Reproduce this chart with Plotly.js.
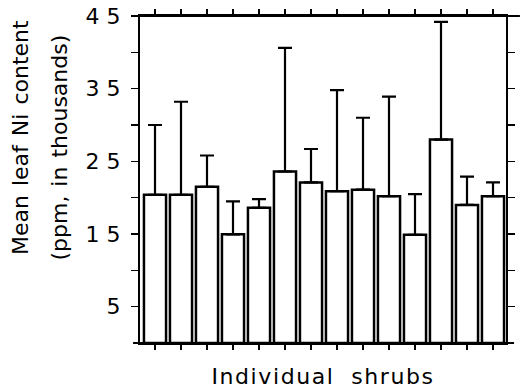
<!DOCTYPE html>
<html>
<head>
<meta charset="utf-8">
<script src="https://cdn.plot.ly/plotly-3.0.1.min.js"></script>
<style>
  html, body { margin: 0; padding: 0; background: #fff; }
  #chart { width: 520px; height: 391px; }
  .xtitle { letter-spacing: 1.6px; word-spacing: 8px; }
  .annotation-text { word-spacing: 2px; }
</style>
</head>
<body>
<div id="chart"></div>
<script>
// Individual shrubs (x categories)
const shrubIds = [1, 2, 3, 4, 5, 6, 7, 8, 9, 10, 11, 12, 13, 14];
// Mean leaf Ni content (ppm, in thousands)
const meanNi = [20.4, 20.4, 21.5, 14.95, 18.6, 23.6, 22.1, 20.9, 21.1, 20.2, 14.9, 28.0, 19.0, 20.2];
// Upper error bar lengths
const errUp = [9.6, 12.8, 4.3, 4.55, 1.2, 17.0, 4.6, 13.9, 9.9, 13.7, 5.6, 16.2, 3.9, 1.9];
// Y tick values and labels
const yTickVals = [5, 10, 15, 20, 25, 30, 35, 40, 45];
const yTickText = ['5', '', '1 5', '', '2 5', '', '3 5', '', '4 5'];

const font = 'DejaVu Sans, Liberation Sans, Arial, sans-serif';

const trace = {
  type: 'bar',
  x: shrubIds,
  y: meanNi,
  width: 0.85,
  marker: { color: '#ffffff', line: { color: '#000000', width: 2.5 } },
  error_y: {
    type: 'data',
    symmetric: false,
    array: errUp,
    arrayminus: shrubIds.map(() => 0),
    color: '#000000',
    thickness: 2.2,
    width: 7
  },
  hoverinfo: 'x+y'
};

const layout = {
  width: 520,
  height: 391,
  margin: { l: 140, r: 14, t: 16, b: 48 },
  paper_bgcolor: '#ffffff',
  plot_bgcolor: '#ffffff',
  showlegend: false,
  font: { family: font, color: '#000000' },
  xaxis: {
    range: [0.423, 14.5],
    tickvals: shrubIds,
    showticklabels: false,
    ticks: 'outside',
    ticklen: 5,
    tickwidth: 1.5,
    tickcolor: '#000',
    showline: true,
    linecolor: '#000',
    linewidth: 2,
    mirror: 'ticks',
    showgrid: false,
    zeroline: false,
    title: { text: 'Individual shrubs', font: { family: font, size: 22, color: '#000' }, standoff: 20 }
  },
  yaxis: {
    range: [0, 45],
    tickvals: yTickVals,
    ticktext: yTickText,
    ticks: 'outside',
    ticklen: 7,
    tickwidth: 1.5,
    tickcolor: '#000',
    ticklabelstandoff: 6,
    tickfont: { family: font, size: 22, color: '#000' },
    showline: true,
    linecolor: '#000',
    linewidth: 2,
    mirror: 'ticks',
    showgrid: false,
    zeroline: false
  },
  annotations: [
    {
      text: 'Mean leaf Ni content',
      xref: 'paper', yref: 'paper',
      x: -0.327, y: 0.628,
      xanchor: 'center', yanchor: 'middle',
      textangle: -90, showarrow: false,
      font: { family: font, size: 22, color: '#000' }
    },
    {
      text: '(ppm, in thousands)',
      xref: 'paper', yref: 'paper',
      x: -0.221, y: 0.598,
      xanchor: 'center', yanchor: 'middle',
      textangle: -90, showarrow: false,
      font: { family: font, size: 22, color: '#000' }
    }
  ],
  shapes: [
    { type: 'line', xref: 'paper', yref: 'paper', x0: -0.022, x1: 1.038, y0: 1, y1: 1, line: { color: '#000', width: 2 } },
    { type: 'line', xref: 'paper', yref: 'paper', x0: -0.019, x1: 1.022, y0: 0, y1: 0, line: { color: '#000', width: 2 } }
  ]
};

Plotly.newPlot('chart', [trace], layout, { displayModeBar: false, staticPlot: true });
</script>
</body>
</html>
